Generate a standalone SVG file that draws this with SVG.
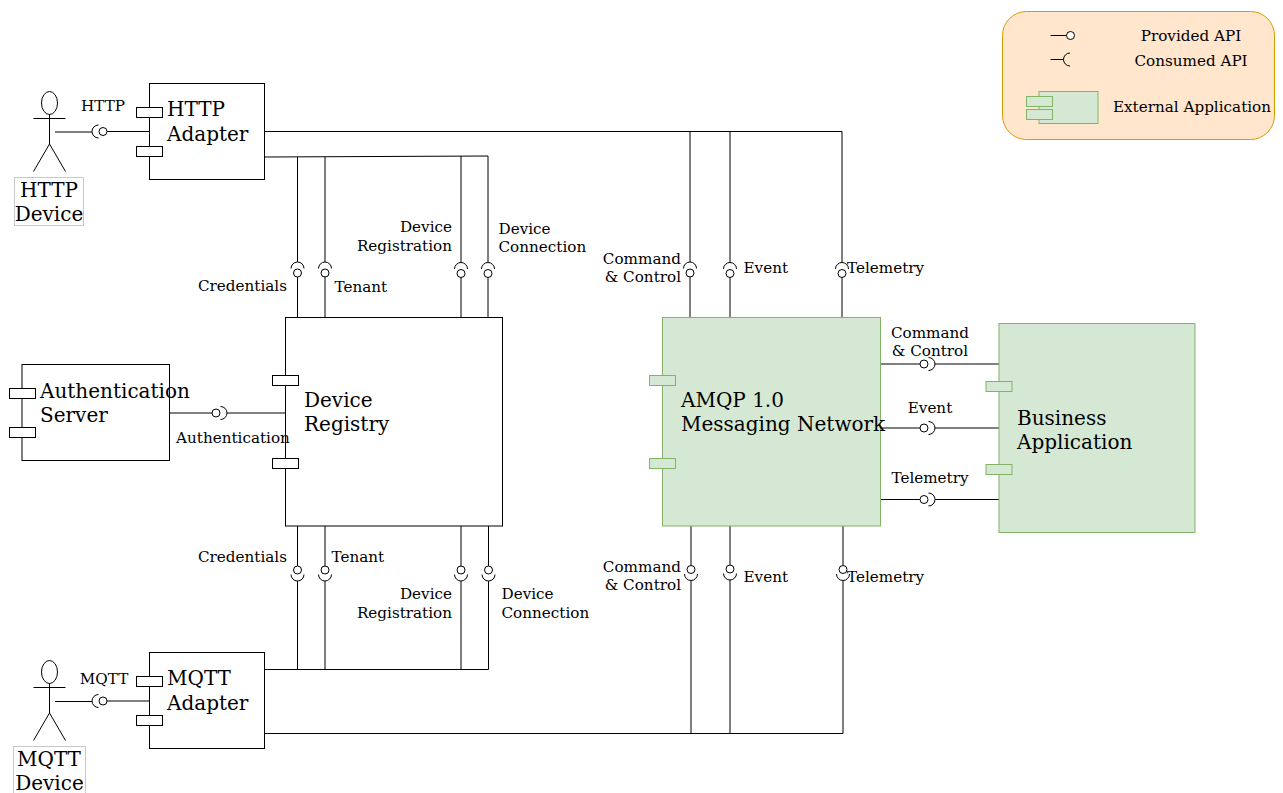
<svg xmlns="http://www.w3.org/2000/svg" xmlns:xlink="http://www.w3.org/1999/xlink" width="1283" height="793" viewBox="0 0 1283 793">
<style>
text{font-family:"DejaVu Serif",serif;fill:#000}
.l{font-size:20px}
.s{font-size:15.2px}
.m{text-anchor:middle}
.e{text-anchor:end}
.w{fill:#fff;stroke:#000;stroke-width:1}
.g{fill:#d5e8d4;stroke:#82b366;stroke-width:1}
.c{fill:none;stroke:#000;stroke-width:1}
.a{fill:none;stroke:#000;stroke-width:1}
.b{fill:#fff;stroke:#c8c8c8;stroke-width:1}
</style>
<defs>
<g id="iface"><path class="c" d="M-6.5,-4.5A6.5,6.5 0 0 1 6.5,-4.5"/><circle class="w" r="4"/></g>
<g id="actor"><ellipse class="w" cx="0" cy="0" rx="8" ry="11.5"/><path class="a" d="M-16,15.5H16M0,11.5V41M0,41L-16,68.5M0,41L16,68.5"/></g>
</defs>
<rect width="1283" height="793" fill="#fff"/>
<g id="connectors">
<path class="c" d="M55,132H92M107,131.5H149.5"/>
<path class="c" d="M55,701.5H92M107,701H149.5"/>
<path class="c" d="M169.5,413H212M227,413H285.5"/>
<path class="c" d="M265,131.5H842V262.5M690,131.5V262M730,131.5V262.5M690,277V318M730,277.5V318M842,277.5V318"/>
<path class="c" d="M265,157L488,156V262.5M297.5,157V262M325,157V262M461,156V262.5M297.5,277V318M325,277V318M461,277.5V318M488,277.5V318"/>
<path class="c" d="M297.5,526V566M325,526V566M461,526V566M488.5,526V566M297.5,581V669.5M325,581V669.5M461,581V669.5M488.5,581V669.5M265,669.5H488.5"/>
<path class="c" d="M691,526V565.5M730,526V565M843,526V565.5M691,580.5V733.5M730,580V733.5M843,580.5V733.5M265,733.5H843"/>
<path class="c" d="M880,364H920M935,364H999M880,428H920M935,428H999M880,499.5H920M935,499.5H999"/>
<use xlink:href="#iface" href="#iface" transform="translate(103,131.5) rotate(-90)"/>
<use xlink:href="#iface" href="#iface" transform="translate(103,701) rotate(-90)"/>
<use xlink:href="#iface" href="#iface" transform="translate(216,413) rotate(90)"/>
<use xlink:href="#iface" href="#iface" transform="translate(297.5,273)"/>
<use xlink:href="#iface" href="#iface" transform="translate(325,273)"/>
<use xlink:href="#iface" href="#iface" transform="translate(461,273.5)"/>
<use xlink:href="#iface" href="#iface" transform="translate(488,273.5)"/>
<use xlink:href="#iface" href="#iface" transform="translate(690,273)"/>
<use xlink:href="#iface" href="#iface" transform="translate(730,273.5)"/>
<use xlink:href="#iface" href="#iface" transform="translate(842,273.5)"/>
<use xlink:href="#iface" href="#iface" transform="translate(297.5,570) rotate(180)"/>
<use xlink:href="#iface" href="#iface" transform="translate(325,570) rotate(180)"/>
<use xlink:href="#iface" href="#iface" transform="translate(461,570) rotate(180)"/>
<use xlink:href="#iface" href="#iface" transform="translate(488.5,570) rotate(180)"/>
<use xlink:href="#iface" href="#iface" transform="translate(691,569.5) rotate(180)"/>
<use xlink:href="#iface" href="#iface" transform="translate(730,569) rotate(180)"/>
<use xlink:href="#iface" href="#iface" transform="translate(843,569.5) rotate(180)"/>
<use xlink:href="#iface" href="#iface" transform="translate(924,364) rotate(90)"/>
<use xlink:href="#iface" href="#iface" transform="translate(924,428) rotate(90)"/>
<use xlink:href="#iface" href="#iface" transform="translate(924,499.5) rotate(90)"/>
</g>
<g id="http-device">
<use xlink:href="#actor" href="#actor" transform="translate(49.5,103)"/>
<rect class="b" x="14.5" y="177.5" width="69" height="48"/>
<text class="l m" x="49" y="197">HTTP</text><text class="l m" x="49" y="221">Device</text>
</g>
<g id="mqtt-device">
<use xlink:href="#actor" href="#actor" transform="translate(49.5,672)"/>
<rect class="b" x="13.5" y="746.5" width="72" height="50"/>
<text class="l m" x="49" y="766">MQTT</text><text class="l m" x="49.5" y="790">Device</text>
</g>
<g id="http-adapter">
<rect class="w" x="149.5" y="83.5" width="115" height="96"/>
<rect class="w" x="136.5" y="107.5" width="26" height="10"/>
<rect class="w" x="136.5" y="146.5" width="26" height="10"/>
<text class="l" x="167" y="116">HTTP</text><text class="l" x="167" y="141">Adapter</text>
</g>
<g id="mqtt-adapter">
<rect class="w" x="149.5" y="652.5" width="115" height="96"/>
<rect class="w" x="136.5" y="676.5" width="26" height="10"/>
<rect class="w" x="136.5" y="715.5" width="26" height="10"/>
<text class="l" x="167" y="685">MQTT</text><text class="l" x="167" y="710">Adapter</text>
</g>
<g id="auth-server">
<rect class="w" x="22" y="364.5" width="147.5" height="96"/>
<rect class="w" x="9.5" y="388.5" width="26" height="10"/>
<rect class="w" x="9.5" y="427.5" width="26" height="10"/>
<text class="l" x="40" y="398">Authentication</text><text class="l" x="40" y="422">Server</text>
</g>
<g id="device-registry">
<rect class="w" x="285.5" y="317.5" width="217" height="208.5"/>
<rect class="w" x="272.5" y="375.5" width="26" height="10"/>
<rect class="w" x="272.5" y="458.5" width="26" height="10"/>
<text class="l" x="304" y="407">Device</text><text class="l" x="304" y="431">Registry</text>
</g>
<g id="amqp-network">
<rect class="g" x="662.5" y="317.5" width="218" height="208.5"/>
<rect class="g" x="649.5" y="375.5" width="26" height="10"/>
<rect class="g" x="649.5" y="458.5" width="26" height="10"/>
<text class="l" x="681" y="407">AMQP 1.0</text><text class="l" x="681" y="431">Messaging Network</text>
</g>
<g id="business-app">
<rect class="g" x="999" y="323.5" width="196" height="209"/>
<rect class="g" x="986" y="381.5" width="26" height="10"/>
<rect class="g" x="986" y="464.5" width="26" height="10"/>
<text class="l" x="1017" y="425">Business</text><text class="l" x="1017" y="449">Application</text>
</g>
<g id="legend">
<rect x="1002.5" y="11.5" width="272" height="128" rx="24" ry="24" fill="#ffe6cc" stroke="#d79b00"/>
<path class="c" d="M1050.5,35.5H1066.5M1050.5,59.5H1063.5M1070,53A6.5,6.5 0 0 0 1070,66"/>
<circle class="w" cx="1070.5" cy="35.5" r="4"/>
<rect class="g" x="1039" y="91.5" width="59" height="32"/>
<rect class="g" x="1026.5" y="96.5" width="26" height="10"/>
<rect class="g" x="1026.5" y="109.5" width="26" height="10"/>
<text class="s m" x="1191" y="41">Provided API</text>
<text class="s m" x="1191" y="65.5">Consumed API</text>
<text class="s m" x="1192" y="112">External Application</text>
</g>
<g id="labels">
<text class="s m" x="103" y="111">HTTP</text>
<text class="s m" x="104" y="684">MQTT</text>
<text class="s m" x="233" y="443">Authentication</text>
<text class="s e" x="287" y="290.5">Credentials</text>
<text class="s" x="334.5" y="291.5">Tenant</text>
<text class="s e" x="452" y="232">Device</text><text class="s e" x="452" y="250.5">Registration</text>
<text class="s" x="498.5" y="234">Device</text><text class="s" x="498.5" y="252">Connection</text>
<text class="s e" x="681" y="264">Command</text><text class="s e" x="681" y="282">&amp; Control</text>
<text class="s" x="743.5" y="273">Event</text>
<text class="s" x="847" y="273">Telemetry</text>
<text class="s e" x="287" y="562">Credentials</text>
<text class="s" x="331.5" y="562">Tenant</text>
<text class="s e" x="452" y="599">Device</text><text class="s e" x="452" y="617.5">Registration</text>
<text class="s" x="501.5" y="599">Device</text><text class="s" x="501.5" y="617.5">Connection</text>
<text class="s e" x="681" y="572">Command</text><text class="s e" x="681" y="590">&amp; Control</text>
<text class="s" x="743.5" y="581.5">Event</text>
<text class="s" x="847" y="581.5">Telemetry</text>
<text class="s m" x="930" y="337.5">Command</text><text class="s m" x="930" y="355.5">&amp; Control</text>
<text class="s m" x="930" y="412.5">Event</text>
<text class="s m" x="930" y="482.5">Telemetry</text>
</g>
</svg>
